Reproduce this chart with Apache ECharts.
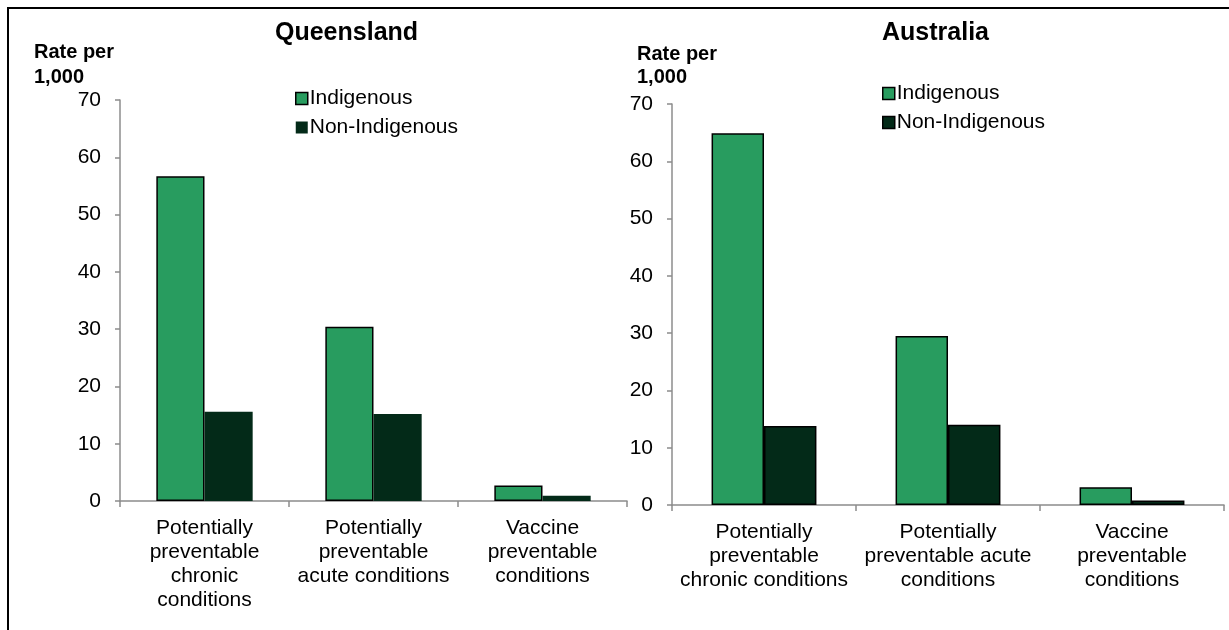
<!DOCTYPE html>
<html>
<head>
<meta charset="utf-8">
<script src="https://cdn.jsdelivr.net/npm/echarts@6/dist/echarts.min.js"></script>
<style>html,body{margin:0;padding:0;background:#fff}#c{width:1229px;height:630px}</style>
</head>
<body>
<div id="c"></div>
<script>
const panelTitles = ['Queensland', 'Australia'];
const seriesNames = ['Indigenous', 'Non-Indigenous'];
const categoriesQld = ['Potentially\npreventable\nchronic\nconditions', 'Potentially\npreventable\nacute conditions', 'Vaccine\npreventable\nconditions'];
const categoriesAus = ['Potentially\npreventable\nchronic conditions', 'Potentially\npreventable acute\nconditions', 'Vaccine\npreventable\nconditions'];
const qldIndigenous = [56.7, 30.4, 2.7];
const qldNonIndigenous = [15.6, 15.2, 0.9];
const ausIndigenous = [64.9, 29.5, 3.1];
const ausNonIndigenous = [13.8, 14.0, 0.8];
const yTicks = [0, 10, 20, 30, 40, 50, 60, 70];
const yAxisName = 'Rate per\n1,000';

const GREEN = '#289C5F', DARK = '#032A18';
const FONT = 'Liberation Sans, Arial, sans-serif';

function yAxis(gi) {
  return {
    type: 'value', gridIndex: gi, min: yTicks[0], max: yTicks[yTicks.length - 1], interval: yTicks[1] - yTicks[0],
    axisLine: { show: true, lineStyle: { color: '#8c8c8c', width: 1.5 } },
    axisTick: { show: true, length: 5, lineStyle: { color: '#8c8c8c', width: 1.5 } },
    splitLine: { show: false },
    axisLabel: { color: '#000', fontSize: 21, fontFamily: FONT, margin: 19 }
  };
}
function xAxis(gi, cats) {
  return {
    type: 'category', gridIndex: gi, data: cats,
    axisLine: { show: true, lineStyle: { color: '#8c8c8c', width: 1.5 } },
    axisTick: { show: true, length: 6, alignWithLabel: false, lineStyle: { color: '#8c8c8c', width: 1.5 } },
    axisLabel: { color: '#000', fontSize: 21, fontFamily: FONT, lineHeight: 24, margin: 15, interval: 0 }
  };
}
function bar(name, gi, data, color, border) {
  return {
    type: 'bar', name: name, xAxisIndex: gi, yAxisIndex: gi, data: data,
    barGap: '0%', barCategoryGap: '43%',
    itemStyle: { color: color, borderColor: border ? '#000' : color, borderWidth: border ? 1.5 : 0 }
  };
}

const chart = echarts.init(document.getElementById('c'), null, { renderer: 'canvas' });
chart.setOption({
  animation: false,
  backgroundColor: '#fff',
  textStyle: { fontFamily: FONT },
  title: [
    { text: panelTitles[0], left: 270, top: 16, textStyle: { fontSize: 25, fontWeight: 'bold', color: '#000', fontFamily: FONT } },
    { text: panelTitles[1], left: 877, top: 16, textStyle: { fontSize: 25, fontWeight: 'bold', color: '#000', fontFamily: FONT } },
    { text: yAxisName, left: 29, top: 35, textStyle: { fontSize: 20, fontWeight: 'bold', color: '#000', lineHeight: 25, fontFamily: FONT } },
    { text: yAxisName, left: 632, top: 38, textStyle: { fontSize: 20, fontWeight: 'bold', color: '#000', lineHeight: 23, fontFamily: FONT } }
  ],
  legend: [
    {
      orient: 'vertical', left: 290, top: 83, itemWidth: 12, itemHeight: 12, itemGap: 8,
      textStyle: { fontSize: 21, color: '#000', fontFamily: FONT, padding: [0, 0, 0, -3] },
      data: [
        { name: seriesNames[0], icon: 'rect', itemStyle: { color: GREEN, borderColor: '#000', borderWidth: 1.5 } },
        { name: seriesNames[1], icon: 'rect', itemStyle: { color: DARK, borderColor: DARK, borderWidth: 0 } }
      ]
    },
    {
      orient: 'vertical', left: 877, top: 78, itemWidth: 12, itemHeight: 12, itemGap: 8,
      textStyle: { fontSize: 21, color: '#000', fontFamily: FONT, padding: [0, 0, 0, -3] },
      data: [
        { name: seriesNames[0], icon: 'rect', itemStyle: { color: GREEN, borderColor: '#000', borderWidth: 1.5 } },
        { name: seriesNames[1], icon: 'rect', itemStyle: { color: DARK, borderColor: '#000', borderWidth: 1.5 } }
      ]
    }
  ],
  grid: [
    { left: 120, right: 602, top: 100, bottom: 129 },
    { left: 672, right: 5, top: 104, bottom: 125 }
  ],
  xAxis: [xAxis(0, categoriesQld), xAxis(1, categoriesAus)],
  yAxis: [yAxis(0), yAxis(1)],
  series: [
    bar(seriesNames[0], 0, qldIndigenous, GREEN, true),
    bar(seriesNames[1], 0, qldNonIndigenous, DARK, false),
    bar(seriesNames[0], 1, ausIndigenous, GREEN, true),
    bar(seriesNames[1], 1, ausNonIndigenous, DARK, true)
  ],
  graphic: [
    { type: 'line', shape: { x1: 7, y1: 8, x2: 1229, y2: 8 }, style: { stroke: '#000', lineWidth: 2 } },
    { type: 'line', shape: { x1: 8, y1: 7, x2: 8, y2: 630 }, style: { stroke: '#000', lineWidth: 2 } }
  ]
});
</script>
</body>
</html>
